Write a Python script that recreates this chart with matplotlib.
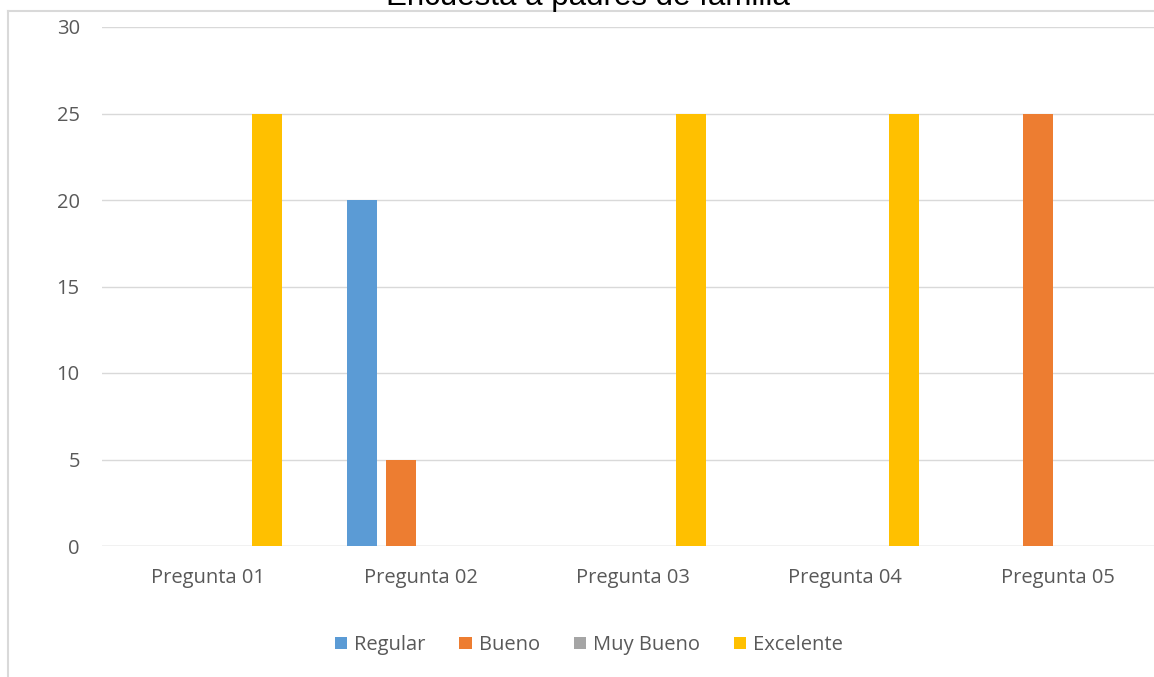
import matplotlib.pyplot as plt
import numpy as np
from matplotlib.lines import Line2D

categories = ["Pregunta 01", "Pregunta 02", "Pregunta 03", "Pregunta 04", "Pregunta 05"]
series_names = ["Regular", "Bueno", "Muy Bueno", "Excelente"]
regular = [0, 20, 0, 0, 0]
bueno = [0, 5, 0, 0, 25]
muy_bueno = [0, 0, 0, 0, 0]
excelente = [25, 0, 25, 25, 0]
colors = ["#5b9bd5", "#ed7d31", "#a5a5a5", "#ffc000"]

plt.rcParams['font.family'] = ['Open Sans', 'DejaVu Sans']

fig = plt.figure(figsize=(11.54, 6.77), dpi=100)
ax = fig.add_axes([102 / 1154, 1 - 546 / 677, 1062 / 1154, 519 / 677])

x = np.arange(len(categories))
width = 0.141
step = 0.1835
for i, (name, vals) in enumerate(zip(series_names, [regular, bueno, muy_bueno, excelente])):
    ax.bar(x + (i - 1.5) * step, vals, width, color=colors[i], label=name, zorder=3)

ax.set_xlim(-0.5, len(categories) - 0.5)
ax.set_ylim(0, 30)
ax.set_yticks(range(0, 31, 5))
ax.set_xticks(x)
ax.set_xticklabels(categories)
ax.grid(axis='y', color='#d9d9d9', linewidth=1, zorder=0)
for s in ax.spines.values():
    s.set_visible(False)
ax.axhline(0, color='#d9d9d9', linewidth=1, zorder=1)
ax.tick_params(length=0, labelsize=14.5, colors='#595959')
ax.tick_params(axis='x', pad=16)
ax.tick_params(axis='y', pad=16)

# chart border
fig.add_artist(Line2D([8 / 1154, 8 / 1154], [0, 1 - 11 / 677], color='#d9d9d9', lw=1.5))
fig.add_artist(Line2D([8 / 1154, 1], [1 - 11 / 677, 1 - 11 / 677], color='#d9d9d9', lw=1.5))

fig.text(588 / 1154, 1 - 5 / 677, "Encuesta a padres de familia", ha='center', va='baseline',
         fontsize=22.5, family='Liberation Sans', color='black')

fig.legend(loc='center', bbox_to_anchor=(589 / 1154, 1 - 645 / 677), ncol=4, frameon=False,
           fontsize=14.5, handlelength=0.6, handleheight=0.6, handletextpad=0.35, columnspacing=1.7,
           labelcolor='#595959')

fig.savefig("out.png", dpi=100)
